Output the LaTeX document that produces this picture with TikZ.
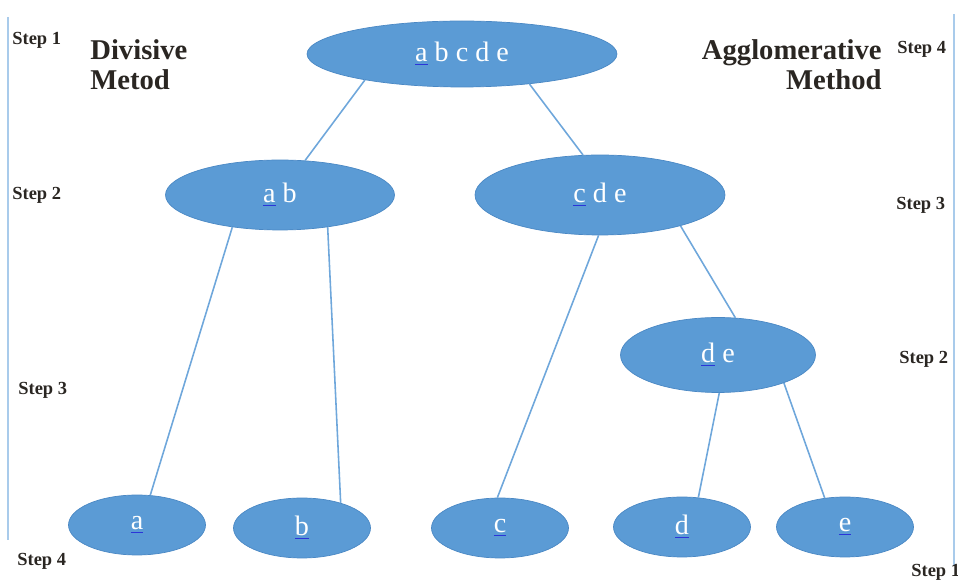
\documentclass[tikz,border=0pt]{standalone}
\usepackage{fontspec}
\usepackage{xcolor}
\setmainfont{Liberation Serif}
\usetikzlibrary{shapes.geometric}
\definecolor{ClBlue}{HTML}{5B9BD5}
\definecolor{ClEdge}{HTML}{4A88C4}
\definecolor{ClLink}{HTML}{6FA7DB}
\definecolor{ClRule}{HTML}{A9CBEB}
\definecolor{ClSpell}{HTML}{2B35D8}
\definecolor{ClInk}{HTML}{2A2622}
% blue spell-check mark under the first letter
\newcommand{\spellmark}[1]{{\color{ClSpell}\underline{\color{white}#1}}}
\tikzset{
  clBase/.style={
    ellipse,
    fill=ClBlue,
    draw=ClEdge,
    line width=0.4pt,
    inner sep=0pt,
    text=white,
    font=\fontsize{16pt}{18pt}\selectfont
  },
  clLeaf/.style={
    clBase,
    minimum width=2.74cm,
    minimum height=1.2cm
  },
  clLink/.style={
    color=ClLink,
    line width=0.9pt
  },
  clRule/.style={
    color=ClRule,
    line width=0.8pt
  },
  clStep/.style={
    anchor=base west,
    inner sep=0pt,
    text=ClInk,
    font=\fontsize{10.5pt}{12pt}\selectfont\bfseries
  },
  clHead/.style={
    inner sep=0pt,
    text=ClInk,
    font=\fontsize{16.3pt}{17pt}\selectfont\bfseries
  }
}
\begin{document}
\begin{tikzpicture}[x=0.02cm, y=-0.02cm]
  \useasboundingbox (0,0) rectangle (958,580);

  % clusters
  \node (abcde) [clBase, minimum width=6.2cm, minimum height=1.32cm] at (462,54) {\spellmark{a} b c d e};
  \node (ab) [clBase, minimum width=4.58cm, minimum height=1.4cm] at (280,195) {\spellmark{a} b};
  \node (cde) [clBase, minimum width=5.0cm, minimum height=1.6cm] at (600,195) {\spellmark{c} d e};
  \node (de) [clBase, minimum width=3.9cm, minimum height=1.5cm] at (718,355) {\spellmark{d} e};
  \node (a) [clLeaf] at (137,525) {\spellmark{a}};
  \node (b) [clLeaf] at (302,528) {\spellmark{b}};
  \node (c) [clLeaf] at (500,528) {\spellmark{c}};
  \node (d) [clLeaf] at (682,527) {\spellmark{d}};
  \node (e) [clLeaf] at (845,527) {\spellmark{e}};

  \draw [clLink] (abcde.195) -- (ab.54);
  \draw [clLink] (abcde.336) -- (cde.113);
  \draw [clLink] (ab.214) -- (a.66);
  \draw [clLink] (ab.326) -- (b.33);
  \draw [clLink] (cde.268) -- (c.95);
  \draw [clLink] (cde.339) -- (de.65);
  \draw [clLink] (de.272) -- (d.61);
  \draw [clLink] (de.337) -- (e.125);

  % side rules
  \coordinate (lTop) at (8,17);
  \coordinate (lBot) at (8,540);
  \coordinate (rTop) at (954,14);
  \coordinate (rBot) at (954,566);
  \draw [clRule] (lTop) -- (lBot);
  \draw [clRule] (rTop) -- (rBot);

  % headings
  \node (divisive) [clHead, anchor=north west, align=left] at (90,39) {Divisive\\Metod};
  \node (agglo) [clHead, anchor=north east, align=right] at (882,39) {Agglomerative\\Method};

  % step labels
  \node (ls1) [clStep] at (12,45) {Step 1};
  \node (ls2) [clStep] at (12,200) {Step 2};
  \node (ls3) [clStep] at (18,395) {Step 3};
  \node (ls4) [clStep] at (17,566) {Step 4};
  \node (rs4) [clStep] at (897,54) {Step 4};
  \node (rs3) [clStep] at (896,210) {Step 3};
  \node (rs2) [clStep] at (899,364) {Step 2};
  \node (rs1) [clStep] at (911,577) {Step 1};
\end{tikzpicture}
\end{document}
